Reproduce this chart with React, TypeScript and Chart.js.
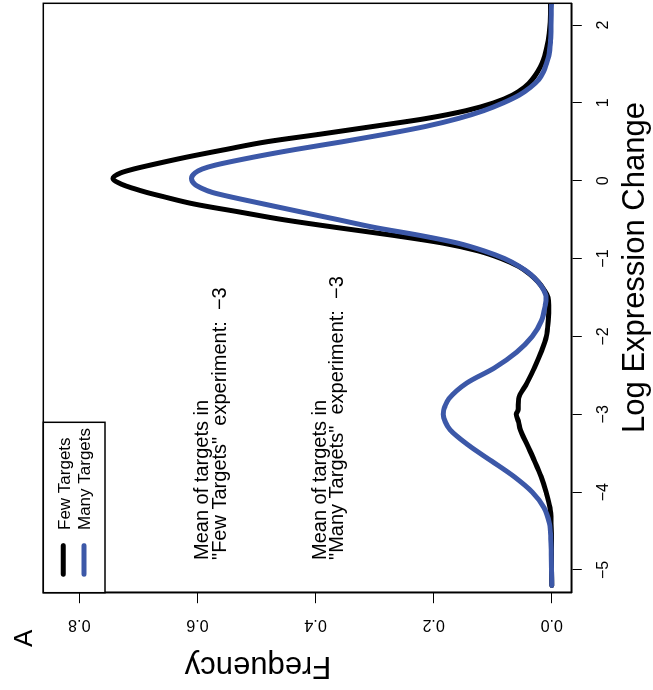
import { useEffect, useRef } from 'react';
import Chart from 'chart.js/auto';

// ---- data ----
const logExpression = [
  -5.2, -5.0, -4.8, -4.6, -4.4, -4.2, -4.0, -3.8, -3.6, -3.4, -3.2, -3.1, -3.0, -2.95, -2.9, -2.8,
  -2.6, -2.4, -2.2, -2.0, -1.8, -1.6, -1.5, -1.4, -1.3, -1.2, -1.1, -1.0, -0.9, -0.8, -0.7, -0.6,
  -0.5, -0.4, -0.3, -0.2, -0.15, -0.1, -0.05, 0.03, 0.1, 0.15, 0.2, 0.3, 0.4, 0.5, 0.6, 0.7, 0.8, 0.9,
  1.0, 1.1, 1.2, 1.3, 1.4, 1.5, 1.6, 1.8, 2.0, 2.3,
];
const fewTargets = [
  0, 0.0002, 0.0004, 0.0005, 0.001, 0.003, 0.0095, 0.018, 0.029, 0.041, 0.053, 0.056, 0.06, 0.057, 0.0565, 0.056,
  0.042, 0.029, 0.018, 0.009, 0.006, 0.005, 0.006, 0.013, 0.023, 0.037, 0.056, 0.085, 0.125, 0.185, 0.27, 0.365,
  0.455, 0.53, 0.605, 0.66, 0.686, 0.708, 0.727, 0.743, 0.73, 0.708, 0.68, 0.62, 0.553, 0.483, 0.39, 0.3, 0.212, 0.145,
  0.098, 0.066, 0.046, 0.033, 0.024, 0.017, 0.012, 0.006, 0.003, 0.002,
];
const manyTargets = [
  0, 0.0003, 0.0008, 0.0015, 0.004, 0.013, 0.033, 0.064, 0.102, 0.1405, 0.172, 0.18, 0.1835, 0.183, 0.181, 0.174,
  0.144, 0.096, 0.059, 0.033, 0.0175, 0.011, 0.0095, 0.014, 0.023, 0.036, 0.055, 0.08, 0.115, 0.16, 0.225, 0.3,
  0.362, 0.425, 0.487, 0.548, 0.575, 0.592, 0.604, 0.61, 0.604, 0.592, 0.57, 0.507, 0.435, 0.355, 0.28, 0.212, 0.158, 0.115,
  0.082, 0.055, 0.036, 0.022, 0.014, 0.009, 0.005, 0.002, 0.001, 0.0005,
];
const seriesLabels = ['Few Targets', 'Many Targets'];
const seriesColors = ['#000000', '#3c58a8'];
const xTickValues = [-5, -4, -3, -2, -1, 0, 1, 2];
const freqTickValues = [0, 0.2, 0.4, 0.6, 0.8];
const xRange = [-5.292, 2.279];
const freqRange = [-0.0332, 0.861];
const fewMean = -3;
const manyMean = -3;
const xTitle = 'Log Expression Change';
const yTitle = 'Frequency';
const panelLabel = 'A';
const annotationAnchors = [0.5664, 0.3678]; // frequency value at text centre
const annotationStartX = -5; // log-expression value where the notes begin

const FONT = "'Liberation Sans', Arial, Helvetica, sans-serif";
const fmtSigned = (v: number) => (v < 0 ? '\u2212' + Math.abs(v) : String(v));

const overlayPlugin = {
  id: 'rOverlay',
  afterDatasetsDraw(chart: any) {
    const { ctx, chartArea: ca, scales } = chart;
    const xs = scales.x;
    const ys = scales.y;
    ctx.save();
    // plot box
    ctx.strokeStyle = '#000';
    ctx.lineWidth = 1.5;
    ctx.strokeRect(ca.left, ca.top, ca.right - ca.left, ca.bottom - ca.top);

    // legend (top-left of the plot region)
    const lw = 170.4;
    const lh = 61.7;
    ctx.fillStyle = '#fff';
    ctx.fillRect(ca.left, ca.top, lw, lh);
    ctx.strokeRect(ca.left, ca.top, lw, lh);
    const rows = [20, 40.7];
    seriesLabels.forEach((lab, i) => {
      const v = ca.top + rows[i];
      ctx.strokeStyle = seriesColors[i];
      ctx.lineWidth = 5;
      ctx.lineCap = 'round';
      ctx.beginPath();
      ctx.moveTo(ca.left + 18.5, v);
      ctx.lineTo(ca.left + 47, v);
      ctx.stroke();
      ctx.fillStyle = '#000';
      ctx.font = `17px ${FONT}`;
      ctx.textAlign = 'left';
      ctx.textBaseline = 'alphabetic';
      ctx.fillText(lab, ca.left + 62.7, v + 6.2);
    });

    // annotations
    const notes = [
      ['Mean of targets in', `"${seriesLabels[0]}"  experiment:  ${fmtSigned(fewMean)}`],
      ['Mean of targets in', `"${seriesLabels[1]}"  experiment:  ${fmtSigned(manyMean)}`],
    ];
    ctx.font = `20px ${FONT}`;
    ctx.fillStyle = '#000';
    ctx.textAlign = 'left';
    ctx.textBaseline = 'alphabetic';
    notes.forEach((lines, i) => {
      const pv = ys.getPixelForValue(annotationAnchors[i]);
      const pu = xs.getPixelForValue(annotationStartX) + 10;
      ctx.fillText(lines[0], pu, pv - 8.8);
      ctx.fillText(lines[1], pu, pv + 8.9);
    });
    ctx.restore();
  },
  afterDraw(chart: any) {
    const { ctx, chartArea: ca } = chart;
    ctx.save();
    ctx.fillStyle = '#000';
    ctx.font = `31px ${FONT}`;
    ctx.textAlign = 'center';
    ctx.textBaseline = 'alphabetic';
    ctx.fillText(xTitle, ca.left + 325.2, ca.bottom + 72.2);
    ctx.save();
    ctx.translate(ca.left - 64.3, ca.top + 214.7);
    ctx.rotate(-Math.PI / 2);
    ctx.fillText(yTitle, 0, 0);
    ctx.restore();
    ctx.font = `26px ${FONT}`;
    ctx.textAlign = 'left';
    ctx.fillText(panelLabel, 43, 31.7);
    ctx.restore();
  },
};

export default function App() {
  const ref = useRef<HTMLCanvasElement | null>(null);
  useEffect(() => {
    if (!ref.current) return;
    const mk = (vals: number[]) => logExpression.map((x, i) => ({ x, y: vals[i] }));
    const chart = new Chart(ref.current, {
      type: 'line',
      data: {
        datasets: [
          {
            label: seriesLabels[0],
            data: mk(fewTargets),
            borderColor: seriesColors[0],
            borderWidth: 5,
            pointRadius: 0,
            cubicInterpolationMode: 'monotone',
            borderCapStyle: 'round',
            borderJoinStyle: 'round',
            fill: false,
            clip: 0,
            order: 2,
          },
          {
            label: seriesLabels[1],
            data: mk(manyTargets),
            borderColor: seriesColors[1],
            borderWidth: 5,
            pointRadius: 0,
            cubicInterpolationMode: 'monotone',
            borderCapStyle: 'round',
            borderJoinStyle: 'round',
            fill: false,
            clip: 0,
            order: 1,
          },
        ],
      },
      options: {
        animation: false,
        responsive: false,
        devicePixelRatio: 1,
        events: [],
        layout: { autoPadding: false, padding: { left: 0, right: 3.3, top: 43.3, bottom: 0 } },
        plugins: { legend: { display: false }, tooltip: { enabled: false } },
        scales: {
          x: {
            type: 'linear',
            position: 'bottom',
            min: xRange[0],
            max: xRange[1],
            afterBuildTicks: (s: any) => {
              s.ticks = xTickValues.map((value) => ({ value }));
            },
            afterFit: (s: any) => {
              s.height = 81.7;
            },
            grid: { drawOnChartArea: false, drawTicks: true, tickLength: 10.5, color: '#000', lineWidth: 1 },
            border: { display: true, color: '#000', width: 1.5 },
            ticks: {
              autoSkip: false,
              maxRotation: 0,
              minRotation: 0,
              padding: 12,
              color: '#000',
              font: { family: FONT, size: 16 },
              callback: (v: any) => fmtSigned(Number(v)),
            },
          },
          y: {
            type: 'linear',
            position: 'left',
            min: freqRange[0],
            max: freqRange[1],
            afterBuildTicks: (s: any) => {
              s.ticks = freqTickValues.map((value) => ({ value }));
            },
            afterFit: (s: any) => {
              s.width = 97.3;
            },
            grid: { drawOnChartArea: false, drawTicks: true, tickLength: 10.5, color: '#000', lineWidth: 1 },
            border: { display: true, color: '#000', width: 1.5 },
            ticks: {
              autoSkip: false,
              minRotation: 90,
              maxRotation: 90,
              crossAlign: 'center',
              padding: 10.5,
              color: '#000',
              font: { family: FONT, size: 16 },
              callback: (v: any) => Number(v).toFixed(1),
            },
          },
        },
      },
      plugins: [overlayPlugin],
    } as any);
    return () => chart.destroy();
  }, []);

  return (
    <div
      style={{
        position: 'fixed',
        left: 0,
        top: 0,
        width: 653,
        height: 690,
        overflow: 'hidden',
        background: '#fff',
      }}
    >
      <canvas
        ref={ref}
        width={690}
        height={653}
        style={{
          position: 'absolute',
          left: 0,
          top: 0,
          width: 690,
          height: 653,
          transformOrigin: '0 0',
          transform: 'translate(0px, 690px) rotate(-90deg)',
        }}
      />
    </div>
  );
}
